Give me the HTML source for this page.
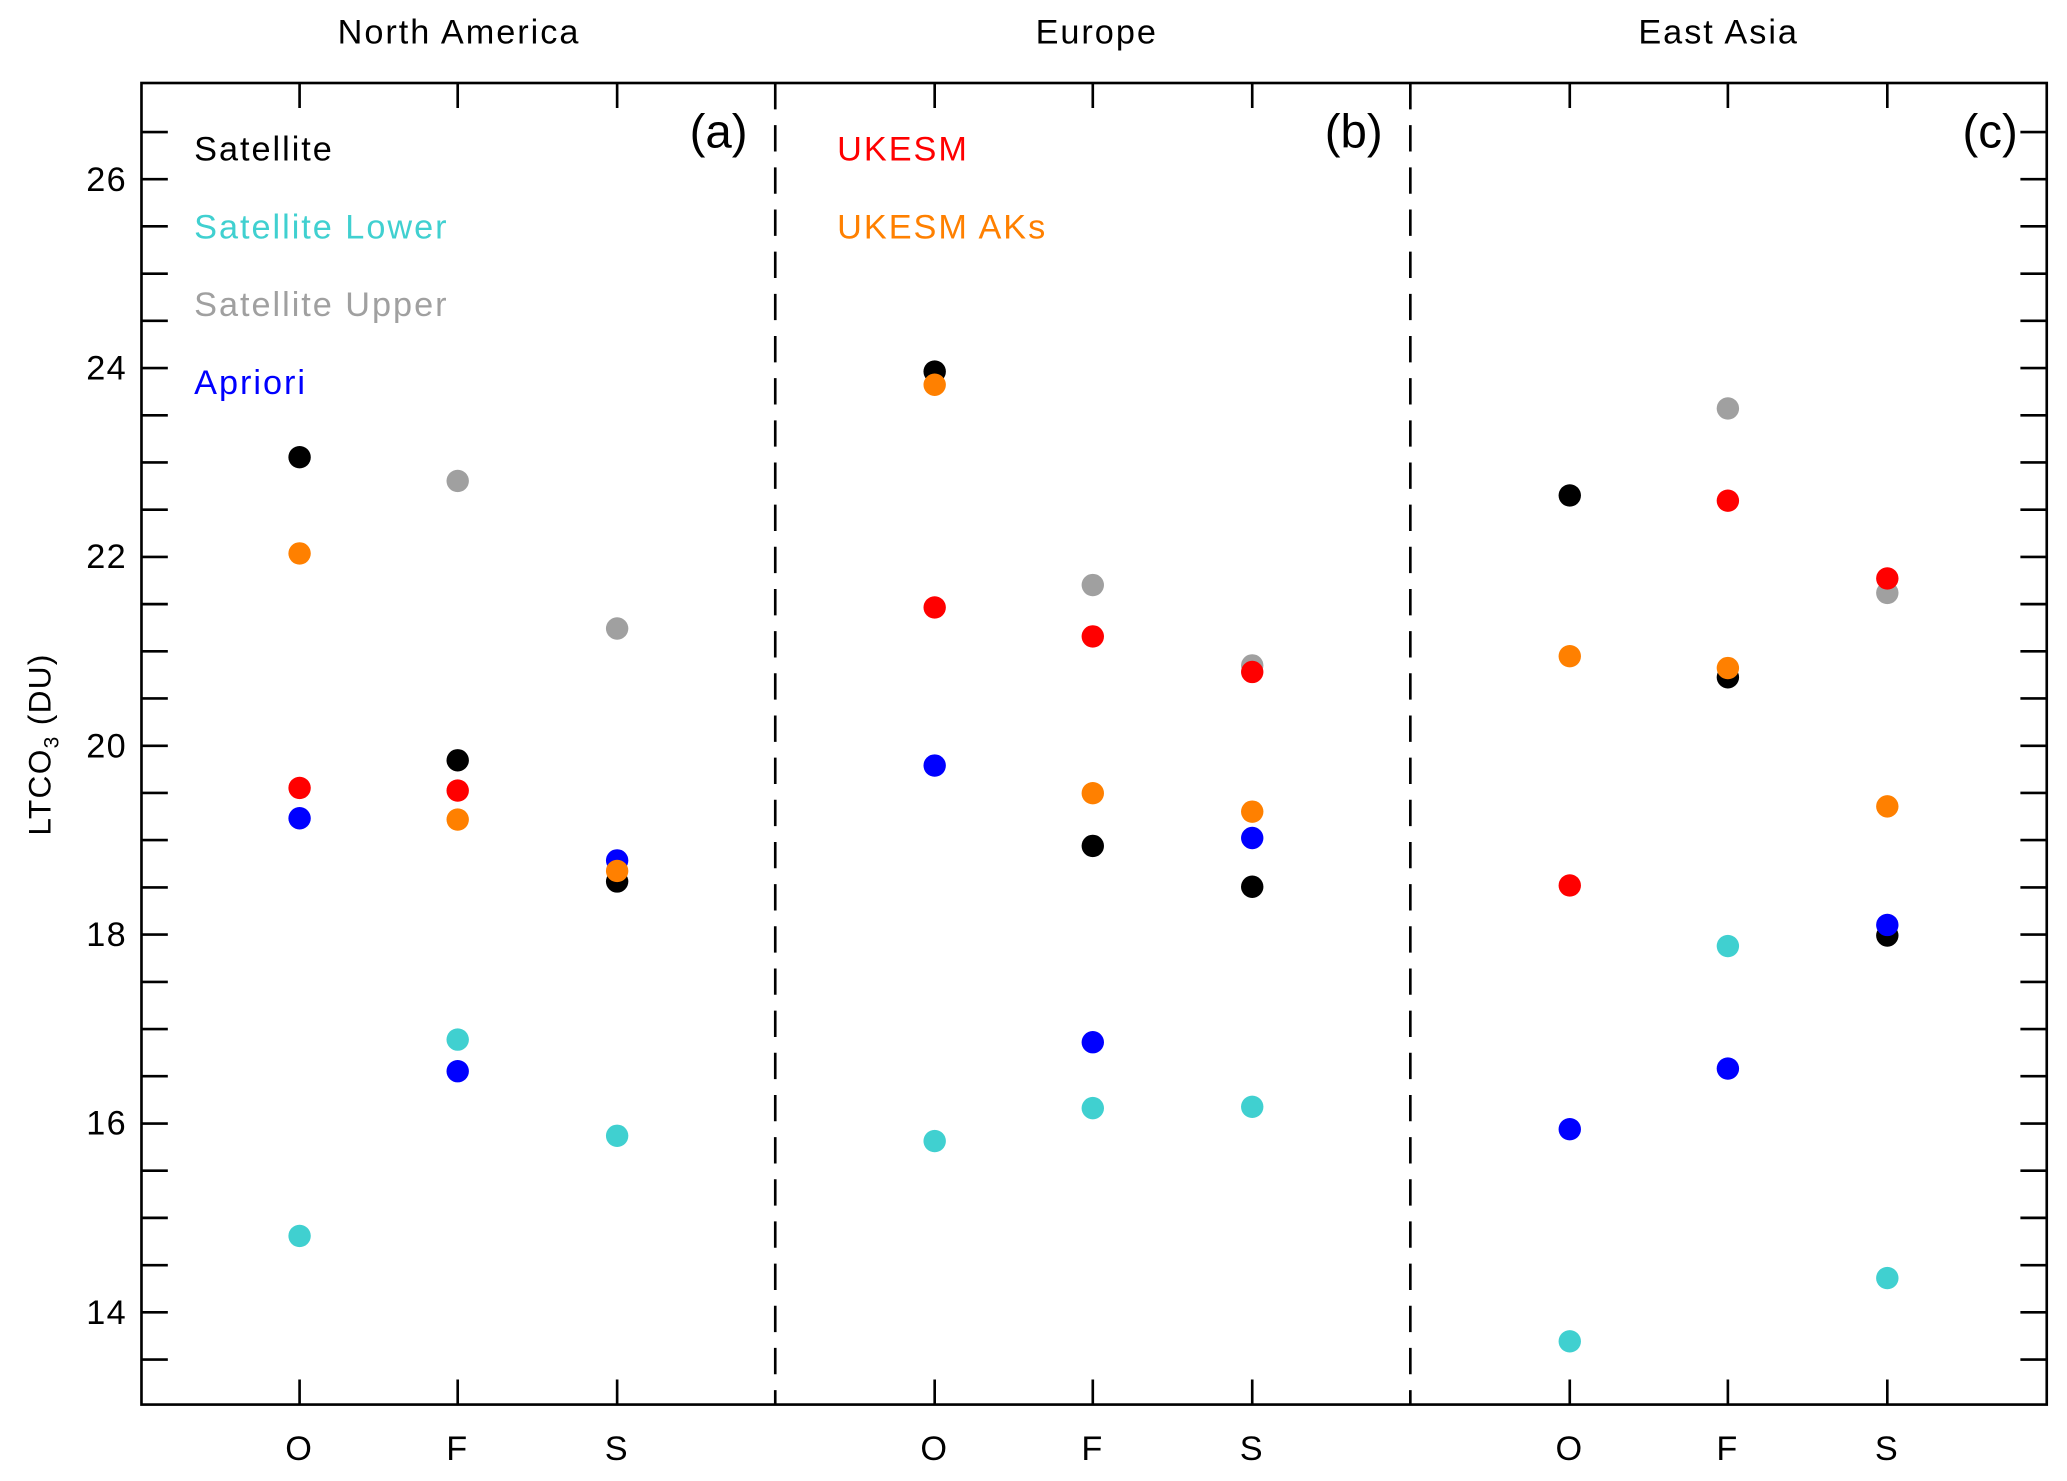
<!DOCTYPE html>
<html><head><meta charset="utf-8"><style>html,body{margin:0;padding:0;background:#fff}svg{display:block}</style></head>
<body>
<svg width="2067" height="1481" viewBox="0 0 1568 1124" xmlns="http://www.w3.org/2000/svg" font-family="'Liberation Sans', 'DejaVu Sans', sans-serif">
<rect width="1568" height="1124" fill="#fff"/>
<rect x="107" y="63" width="1446" height="1003" fill="none" stroke="#000" stroke-width="2"/>
<g stroke="#000" stroke-width="2">
<line x1="588" y1="63" x2="588" y2="1066" stroke-dasharray="20,12"/>
<line x1="1070" y1="63" x2="1070" y2="1066" stroke-dasharray="20,12"/>
</g>
<path stroke="#000" stroke-width="2" fill="none" d="
M107 1031.8h20M107 996h20M107 960.2h20M107 924.3h20M107 888.5h20M107 852.7h20M107 816.8h20M107 781h20M107 745.2h20M107 709.3h20M107 673.5h20M107 637.6h20M107 601.8h20M107 566h20M107 530.1h20M107 494.3h20M107 458.5h20M107 422.7h20M107 386.8h20M107 351h20M107 315.2h20M107 279.3h20M107 243.5h20M107 207.7h20M107 171.8h20M107 136h20M107 100.2h20
M1533 1031.8h20M1533 996h20M1533 960.2h20M1533 924.3h20M1533 888.5h20M1533 852.7h20M1533 816.8h20M1533 781h20M1533 745.2h20M1533 709.3h20M1533 673.5h20M1533 637.6h20M1533 601.8h20M1533 566h20M1533 530.1h20M1533 494.3h20M1533 458.5h20M1533 422.7h20M1533 386.8h20M1533 351h20M1533 315.2h20M1533 279.3h20M1533 243.5h20M1533 207.7h20M1533 171.8h20M1533 136h20M1533 100.2h20
M227 63v19M347 63v19M468 63v19M709 63v19M829 63v19M950 63v19M1191 63v19M1311 63v19M1432 63v19
M227 1047v19M347 1047v19M468 1047v19M709 1047v19M829 1047v19M950 1047v19M1191 1047v19M1311 1047v19M1432 1047v19"/>
<g font-size="26" fill="#000" text-anchor="middle" letter-spacing="1.5">
<text x="348" y="33">North America</text>
<text x="832" y="33">Europe</text>
<text x="1304" y="33">East Asia</text>
<text x="227" y="1108">O</text><text x="347" y="1108">F</text><text x="468" y="1108">S</text>
<text x="709" y="1108">O</text><text x="829" y="1108">F</text><text x="950" y="1108">S</text>
<text x="1191" y="1108">O</text><text x="1311" y="1108">F</text><text x="1432" y="1108">S</text>
</g>
<g font-size="26" text-anchor="end" letter-spacing="1">
<text x="96" y="145">26</text><text x="96" y="288">24</text><text x="96" y="431">22</text>
<text x="96" y="575">20</text><text x="96" y="718">18</text><text x="96" y="861">16</text><text x="96" y="1005">14</text>
</g>
<text transform="translate(38,565) rotate(-90)" font-size="24" text-anchor="middle" letter-spacing="1">LTCO<tspan font-size="16" dy="6">3</tspan><tspan dy="-6"> (DU)</tspan></text>
<g font-size="36" text-anchor="end">
<text x="567" y="112">(a)</text><text x="1049" y="112">(b)</text><text x="1531" y="112">(c)</text>
</g>
<g font-size="26" letter-spacing="1.5">
<text x="147" y="122" fill="#000">Satellite</text>
<text x="147" y="181" fill="#40d0d0">Satellite Lower</text>
<text x="147" y="240" fill="#a0a0a0">Satellite Upper</text>
<text x="147" y="299" fill="#0000ff">Apriori</text>
<text x="635" y="122" fill="#ff0000">UKESM</text>
<text x="635" y="181" fill="#ff8000">UKESM AKs</text>
</g>
<g fill="#a0a0a0">
<circle cx="347" cy="365" r="8.5"/><circle cx="468" cy="477" r="8.5"/>
<circle cx="829" cy="444" r="8.5"/><circle cx="950" cy="505" r="8.5"/>
<circle cx="1311" cy="310" r="8.5"/><circle cx="1432" cy="450" r="8.5"/>
</g>
<g fill="#000">
<circle cx="227" cy="347" r="8.5"/><circle cx="347" cy="577" r="8.5"/><circle cx="468" cy="669" r="8.5"/>
<circle cx="709" cy="282" r="8.5"/><circle cx="829" cy="642" r="8.5"/><circle cx="950" cy="673" r="8.5"/>
<circle cx="1191" cy="376" r="8.5"/><circle cx="1311" cy="514" r="8.5"/><circle cx="1432" cy="710" r="8.5"/>
</g>
<g fill="#40d0d0">
<circle cx="227" cy="938" r="8.5"/><circle cx="347" cy="789" r="8.5"/><circle cx="468" cy="862" r="8.5"/>
<circle cx="709" cy="866" r="8.5"/><circle cx="829" cy="841" r="8.5"/><circle cx="950" cy="840" r="8.5"/>
<circle cx="1191" cy="1018" r="8.5"/><circle cx="1311" cy="718" r="8.5"/><circle cx="1432" cy="970" r="8.5"/>
</g>
<g fill="#0000ff">
<circle cx="227" cy="621" r="8.5"/><circle cx="347" cy="813" r="8.5"/><circle cx="468" cy="653" r="8.5"/>
<circle cx="709" cy="581" r="8.5"/><circle cx="829" cy="791" r="8.5"/><circle cx="950" cy="636" r="8.5"/>
<circle cx="1191" cy="857" r="8.5"/><circle cx="1311" cy="811" r="8.5"/><circle cx="1432" cy="702" r="8.5"/>
</g>
<g fill="#ff0000">
<circle cx="227" cy="598" r="8.5"/><circle cx="347" cy="600" r="8.5"/>
<circle cx="709" cy="461" r="8.5"/><circle cx="829" cy="483" r="8.5"/><circle cx="950" cy="510" r="8.5"/>
<circle cx="1191" cy="672" r="8.5"/><circle cx="1311" cy="380" r="8.5"/><circle cx="1432" cy="439" r="8.5"/>
</g>
<g fill="#ff8000">
<circle cx="227" cy="420" r="8.5"/><circle cx="347" cy="622" r="8.5"/><circle cx="468" cy="661" r="8.5"/>
<circle cx="709" cy="292" r="8.5"/><circle cx="829" cy="602" r="8.5"/><circle cx="950" cy="616" r="8.5"/>
<circle cx="1191" cy="498" r="8.5"/><circle cx="1311" cy="507" r="8.5"/><circle cx="1432" cy="612" r="8.5"/>
</g>
</svg>
</body></html>
